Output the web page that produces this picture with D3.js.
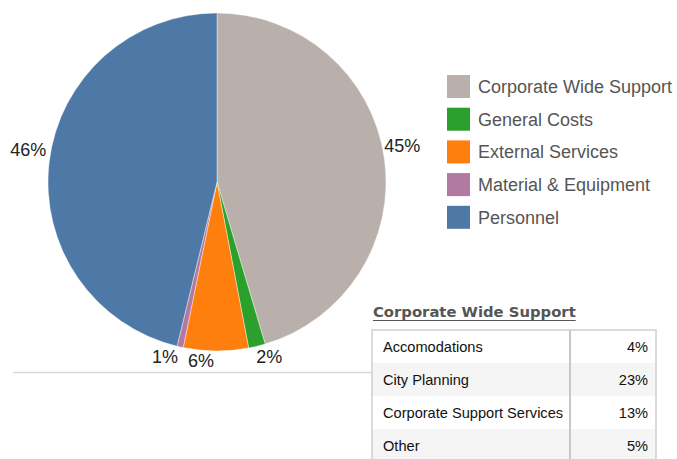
<!DOCTYPE html>
<html>
<head>
<meta charset="utf-8">
<title>Budget Pie</title>
<style>
body { margin: 0; background: #fff; }
svg { display: block; }
.slice-label { font-family: Arial, "Liberation Sans", sans-serif; font-size: 18px; fill: #222; }
.legend text { font-family: Arial, "Liberation Sans", sans-serif; font-size: 18px; fill: #555; }
.detail-title { font-family: "DejaVu Sans", sans-serif; font-size: 14.8px; font-weight: bold; fill: #555; }
.detail text { font-family: Arial, "Liberation Sans", sans-serif; font-size: 14.6px; fill: #111; }
</style>
</head>
<body>
<script src="https://d3js.org/d3.v7.min.js"></script>
<script>

// Data
var categories = ["Corporate Wide Support", "General Costs", "External Services", "Material & Equipment", "Personnel"];
var shares = [45.4, 1.6, 6.2, 0.6, 46.2];
var sliceLabels = ["45%", "2%", "6%", "1%", "46%"];
var colours = ["#bab0ab", "#2ca02c", "#ff7f0e", "#b279a2", "#4e79a7"];

var detailTitle = "Corporate Wide Support";
var detailNames = ["Accomodations", "City Planning", "Corporate Support Services", "Other"];
var detailValues = ["4%", "23%", "13%", "5%"];

var width = 677, height = 459;
var cx = 217, cy = 182, radius = 169;

var svg = d3.select("body").append("svg")
    .attr("width", width)
    .attr("height", height);

// baseline rule under the pie
svg.append("line")
    .attr("x1", 13).attr("x2", 372)
    .attr("y1", 372.5).attr("y2", 372.5)
    .attr("stroke", "#d9d9d9")
    .attr("stroke-width", 1.5);

var pie = d3.pie().sort(null).value(function(d) { return d; });
var arcs = pie(shares);

var arc = d3.arc().innerRadius(0).outerRadius(radius);

var g = svg.append("g").attr("transform", "translate(" + cx + "," + cy + ")");

g.selectAll("path.slice")
    .data(arcs)
    .enter().append("path")
    .attr("class", "slice")
    .attr("d", arc)
    .attr("fill", function(d, i) { return colours[i]; })
    .attr("stroke", "#fff")
    .attr("stroke-width", 0.4);

// labels hang off the rim point at the mid angle:
// right half anchored at start, left half at end, pushed up/down away from the pie
function midAngle(d) { return (d.startAngle + d.endAngle) / 2; }

g.selectAll("text.slice-label")
    .data(arcs)
    .enter().append("text")
    .attr("class", "slice-label")
    .attr("dy", "0.35em")
    .attr("text-anchor", function(d) { return midAngle(d) < Math.PI ? "start" : "end"; })
    .attr("x", function(d) {
        var a = midAngle(d);
        return (radius + 1) * Math.sin(a) + (a < Math.PI ? -1 : -2);
    })
    .attr("y", function(d) {
        var c = Math.cos(midAngle(d));
        return -radius * c - (c > 0 ? 12 : -10);
    })
    .text(function(d, i) { return sliceLabels[i]; });

// Legend
var legend = svg.append("g").attr("class", "legend")
    .attr("transform", "translate(447,75)");

var rows = legend.selectAll("g")
    .data(categories)
    .enter().append("g")
    .attr("transform", function(d, i) { return "translate(0," + (i * 32.7) + ")"; });

rows.append("rect")
    .attr("width", 23).attr("height", 23)
    .attr("fill", function(d, i) { return colours[i]; });

rows.append("text")
    .attr("x", 31).attr("y", 18)
    .text(function(d) { return d; });

// Detail table
var detail = svg.append("g").attr("class", "detail");

var title = svg.append("text")
    .attr("class", "detail-title")
    .attr("x", 373).attr("y", 317)
    .text(detailTitle);
var tw = title.node().getComputedTextLength();
svg.append("line")
    .attr("x1", 373).attr("x2", 373 + tw)
    .attr("y1", 320.5).attr("y2", 320.5)
    .attr("stroke", "#555").attr("stroke-width", 1.2);

var tableX = 372, tableY = 330, tableW = 284, rowH = 33, colX = 570;
var y = d3.scaleBand()
    .domain(detailNames)
    .range([tableY, tableY + rowH * detailNames.length]);

detail.selectAll("rect.row")
    .data(detailNames)
    .enter().append("rect")
    .attr("class", "row")
    .attr("x", tableX).attr("width", tableW)
    .attr("y", function(d) { return y(d); })
    .attr("height", y.bandwidth())
    .attr("fill", function(d, i) { return i % 2 ? "#f5f5f5" : "#fff"; });

detail.append("path")
    .attr("d", "M" + tableX + "," + (height + 2) + "V" + tableY + "H" + (tableX + tableW) + "V" + (height + 2))
    .attr("fill", "none")
    .attr("stroke", "#d0d0d0")
    .attr("stroke-width", 1.5);

detail.append("line")
    .attr("x1", colX).attr("x2", colX)
    .attr("y1", tableY).attr("y2", height)
    .attr("stroke", "#c8c8c8")
    .attr("stroke-width", 2);

detail.selectAll("text.name")
    .data(detailNames)
    .enter().append("text")
    .attr("class", "name")
    .attr("x", 383)
    .attr("y", function(d) { return y(d) + 22; })
    .text(function(d) { return d; });

detail.selectAll("text.value")
    .data(detailValues)
    .enter().append("text")
    .attr("class", "value")
    .attr("text-anchor", "end")
    .attr("x", 648)
    .attr("y", function(d, i) { return y(detailNames[i]) + 22; })
    .text(function(d) { return d; });

</script>
</body>
</html>
